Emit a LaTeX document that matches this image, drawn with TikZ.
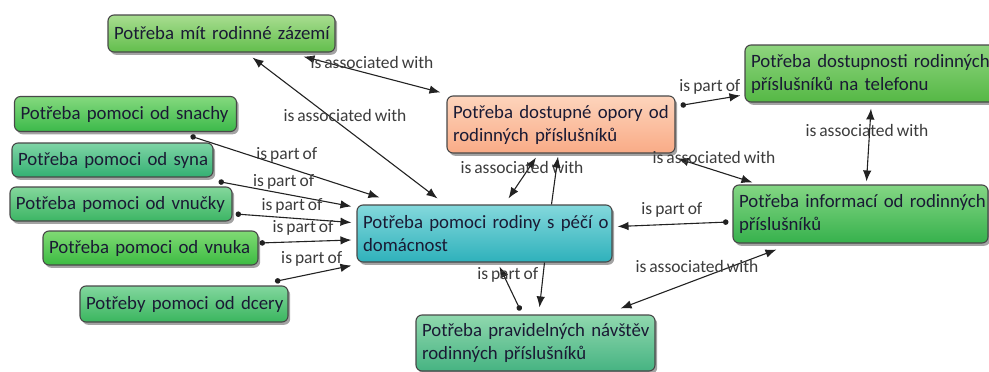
\documentclass[tikz,border=0pt]{standalone}
\usepackage{fontspec}
\setmainfont{Carlito}[WordSpace=0.75]
\usetikzlibrary{arrows.meta,calc,shadows}

% palette
\definecolor{boxline}{HTML}{484848}
\definecolor{boxtext}{HTML}{1A1A34}
\definecolor{linkc}{HTML}{222222}
\definecolor{lblc}{HTML}{3C3C3C}
\definecolor{zazT}{HTML}{A8DD90}\definecolor{zazB}{HTML}{62BE4C}
\definecolor{snaT}{HTML}{84D97E}\definecolor{snaB}{HTML}{3CB94A}
\definecolor{synT}{HTML}{7FD4A6}\definecolor{synB}{HTML}{33B072}
\definecolor{vnuT}{HTML}{84D79C}\definecolor{vnuB}{HTML}{3CB564}
\definecolor{vnkT}{HTML}{80DA74}\definecolor{vnkB}{HTML}{3CBB42}
\definecolor{dceT}{HTML}{82D79E}\definecolor{dceB}{HTML}{3AB55E}
\definecolor{cenT}{HTML}{84D8DC}\definecolor{cenB}{HTML}{2EB1BB}
\definecolor{oraT}{HTML}{FDD4BC}\definecolor{oraB}{HTML}{F9AB86}
\definecolor{telT}{HTML}{8ED47E}\definecolor{telB}{HTML}{55B845}
\definecolor{infT}{HTML}{84D684}\definecolor{infB}{HTML}{36B14C}
\definecolor{navT}{HTML}{90D8AE}\definecolor{navB}{HTML}{46B382}

\tikzset{
  box/.style={draw=boxline, line width=1.1pt, rounded corners=6pt,
    inner xsep=6pt, inner ysep=2pt, align=left, text=boxtext,
    font=\fontsize{18.8}{23}\selectfont,
    drop shadow={shadow xshift=2.2pt, shadow yshift=-2.8pt, opacity=0.45, fill=black!80}},
  link/.style={draw=linkc, line width=1.1pt},
  both/.style={link, {Latex[length=11pt,width=8.5pt]}-{Latex[length=11pt,width=8.5pt]}},
  part/.style={link, {Circle[length=5.5pt]}-{Latex[length=11pt,width=8.5pt]}},
  single/.style={link, -{Latex[length=11pt,width=8.5pt]}},
  lbl/.style={text=lblc, font=\fontsize{17.5}{20}\selectfont, inner sep=0pt},
}

\begin{document}
\begin{tikzpicture}[x=1pt, y=-1pt]
\clip (0,0) rectangle (989,372);

% concept boxes
\node[box, top color=zazT, bottom color=zazB, minimum height=37pt, text width=215pt] (zaz) at (221.5,33.5) {\mbox{Potřeba mít rodinné zázemí}};
\node[box, top color=snaT, bottom color=snaB, minimum height=35pt, text width=210pt] (sna) at (125.5,114) {\mbox{Potřeba pomoci od snachy}};
\node[box, top color=synT, bottom color=synB, minimum height=34pt, text width=189pt] (syn) at (112.5,160) {\mbox{Potřeba pomoci od syna}};
\node[box, top color=vnuT, bottom color=vnuB, minimum height=34pt, text width=210pt] (vnu) at (121,204) {\mbox{Potřeba pomoci od vnučky}};
\node[box, top color=vnkT, bottom color=vnkB, minimum height=34pt, text width=203pt] (vnk) at (150.5,248) {\mbox{Potřeba pomoci od vnuka}};
\node[box, top color=dceT, bottom color=dceB, minimum height=36pt, text width=196pt] (dce) at (184,304) {\mbox{Potřeby pomoci od dcery}};
\node[box, top color=cenT, bottom color=cenB, minimum height=57pt, text width=243pt] (cen) at (484.5,233.5) {\mbox{Potřeba pomoci rodiny s péčí o}\\\mbox{domácnost}};
\node[box, top color=oraT, bottom color=oraB, minimum height=57pt, text width=216pt] (ora) at (561,124.5) {\mbox{Potřeba dostupné opory od}\\\mbox{rodinných příslušníků}};
\node[box, top color=telT, bottom color=telB, minimum height=57pt, text width=244pt] (tel) at (873,73.5) {\mbox{Potřeba dostupnosti rodinných}\\\mbox{příslušníků na telefonu}};
\node[box, top color=infT, bottom color=infB, minimum height=58pt, text width=243pt] (inf) at (860.5,214) {\mbox{Potřeba informací od rodinných}\\\mbox{příslušníků}};
\node[box, top color=navT, bottom color=navB, minimum height=56pt, text width=227pt] (nav) at (535.5,343) {\mbox{Potřeba pravidelných návštěv}\\\mbox{rodinných příslušníků}};

% relations
\draw[both] ($(zaz.south)+(82,4)$) -- node[lbl, pos=0.5, yshift=12.5pt] {is associated with} ($(ora.north west)+(-6,-3)$);
\draw[both] ($(cen.north)+(-47,-6)$) -- node[lbl, pos=0.592, xshift=17pt] {is associated with} ($(zaz.south)+(31,5)$);

\draw[part] ($(sna.south)+(65,4)$) -- node[lbl, pos=0.51, yshift=12pt] {is part of} ($(cen.north west)+(23,-7)$);
\draw[part] ($(syn.south east)+(5,4)$) -- node[lbl, pos=0.49, yshift=12pt] {is part of} ($(cen.north west)+(-5,2)$);
\draw[part] ($(vnu.east)+(3,10)$) -- node[lbl, pos=0.487, yshift=12pt] {is part of} ($(cen.west)+(-5,-11)$);
\draw[part] ($(vnk.east)+(1,-5)$) -- node[lbl, pos=0.473, yshift=13.5pt] {is part of} ($(cen.west)+(-5,6.5)$);
\draw[part] ($(dce.north)+(91,-4)$) -- node[lbl, pos=0.48, yshift=14.5pt] {is part of} ($(cen.south west)+(-5,3)$);

\draw[both] ($(ora.south)+(-25,4)$) -- node[lbl, pos=0.238, xshift=-7.5pt] {is associated with} ($(cen.north)+(24,-6)$);
\draw[single] ($(cen.north)+(67,0)$) -- ($(ora.south)+(-3,3)$);

\draw[part] ($(ora.north east)+(5,10)$) -- node[lbl, pos=0.49, yshift=14pt] {is part of} ($(tel.west)+(-4,22)$);
\draw[both] ($(ora.south east)+(2,5)$) -- node[lbl, pos=0.487, yshift=13pt] {is associated with} ($(inf.north west)+(20,-2)$);
\draw[both] ($(tel.south)+(-2,6)$) -- node[lbl, pos=0.297, xshift=-2.7pt] {is associated with} ($(inf.north)+(6,-3)$);

\draw[part] ($(inf.west)+(-4,8)$) -- node[lbl, pos=0.51, yshift=14pt] {is part of} ($(cen.east)+(5,-7)$);
\draw[both] ($(inf.south west)+(44,6)$) -- node[lbl, pos=0.51, yshift=13.5pt] {is associated with} ($(nav.north east)+(-35,-6)$);

\draw[part] ($(nav.north)+(-15,-4)$) -- node[lbl, pos=0.8, xshift=4pt] {is part of} ($(cen.south)+(15,4)$);
\draw[single] ($(cen.south)+(60,0)$) -- ($(nav.north)+(4,-7)$);
\end{tikzpicture}
\end{document}
